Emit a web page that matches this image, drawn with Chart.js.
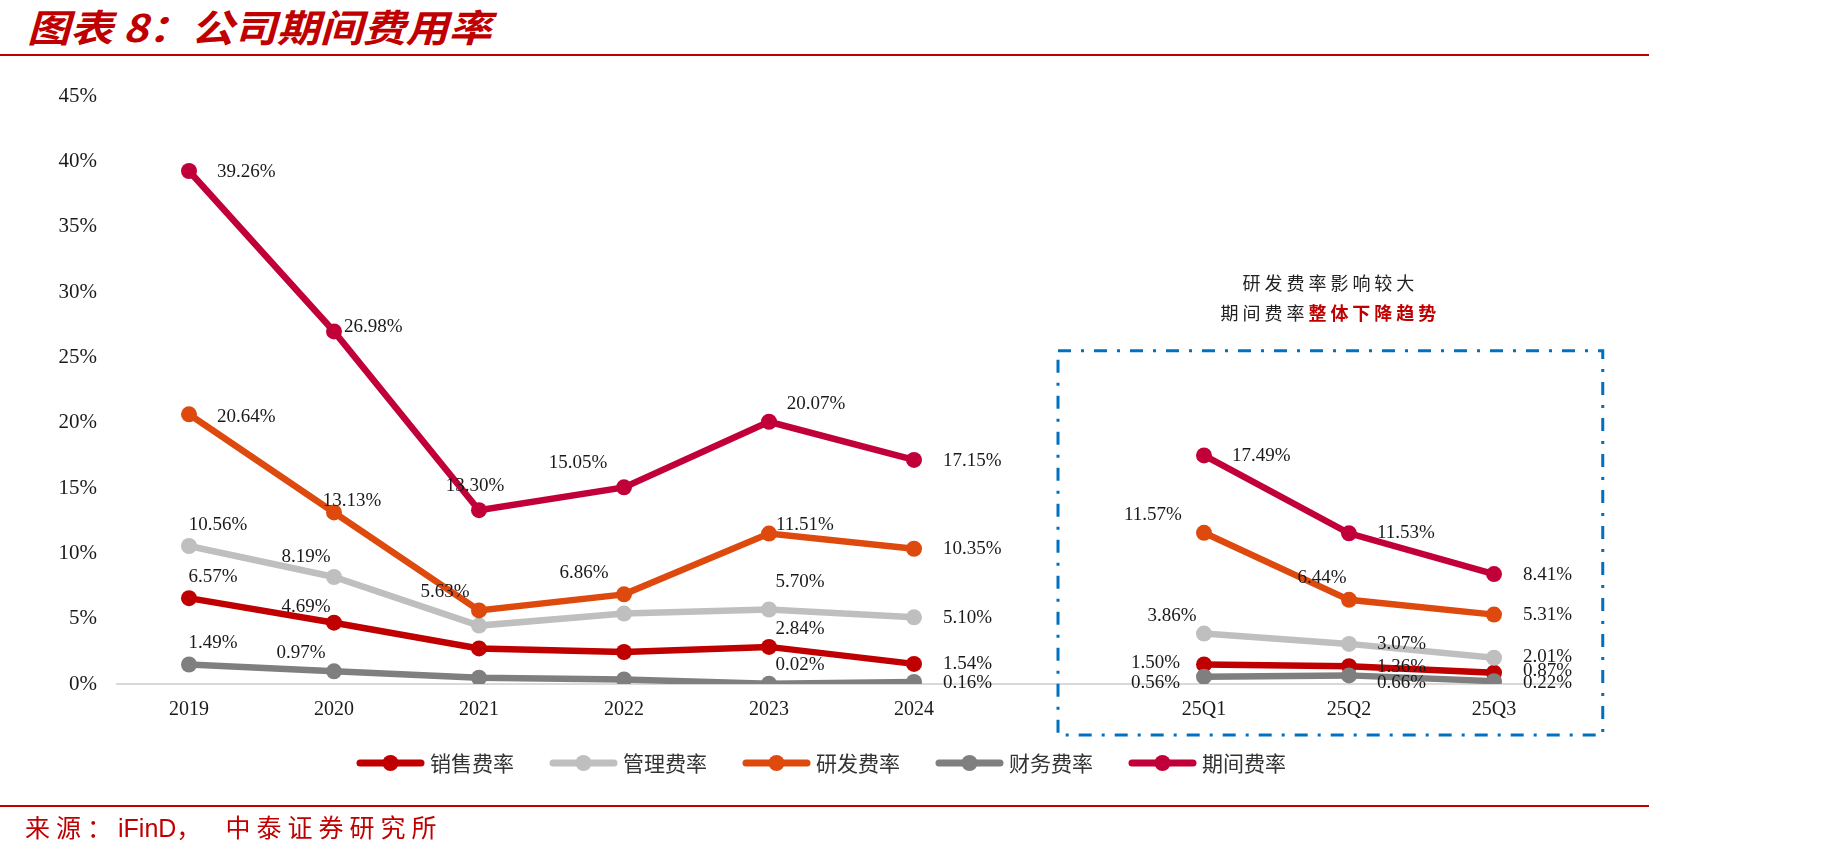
<!DOCTYPE html>
<html>
<head>
<meta charset="utf-8">
<script src="https://cdn.jsdelivr.net/npm/chart.js@4.4.1/dist/chart.umd.min.js"></script>
<style>
  html, body { margin: 0; padding: 0; background: #fff; width: 1830px; height: 858px; overflow: hidden; }
  #wrap { position: relative; width: 1830px; height: 858px; }
  #chart { position: absolute; left: 0; top: 0; }
  .title { position: absolute; left: 27px; top: -2px; font: italic bold 38px "Noto Sans CJK SC"; color: #C00000; white-space: nowrap; transform: scaleX(1.13); transform-origin: left top; }
  .rule { position: absolute; left: 0; width: 1649px; height: 2px; background: #C00000; }
  .src { position: absolute; left: 25px; top: 808px; font: 25px "Noto Sans CJK SC"; color: #C00000; white-space: nowrap; }
  .src .cjk { letter-spacing: 6px; }
  .src .comma { margin-right: 18px; }
  .src .lat { font-family: "Liberation Sans", Arial, sans-serif; }
</style>
</head>
<body>
<div id="wrap">
  <div class="title">图表 8：公司期间费用率</div>
  <div class="rule" style="top:54px"></div>
  <canvas id="chart" width="1830" height="858"></canvas>
  <div class="rule" style="top:805px"></div>
  <div class="src"><span class="cjk">来源：</span><span class="lat">iFinD</span><span class="cjk comma">，</span><span class="cjk">中泰证券研究所</span></div>
</div>
<script>
// categories (empty slot separates the annual and quarterly parts)
const categories = ["2019", "2020", "2021", "2022", "2023", "2024", "", "25Q1", "25Q2", "25Q3"];

// rates in %
const salesRate   = [6.57, 4.69, 2.72, 2.45, 2.84, 1.54, null, 1.50, 1.36, 0.87];
const adminRate   = [10.56, 8.19, 4.47, 5.39, 5.70, 5.10, null, 3.86, 3.07, 2.01];
const rdRate      = [20.64, 13.13, 5.63, 6.86, 11.51, 10.35, null, 11.57, 6.44, 5.31];
const financeRate = [1.49, 0.97, 0.48, 0.35, 0.02, 0.16, null, 0.56, 0.66, 0.22];
const periodRate  = [39.26, 26.98, 13.30, 15.05, 20.07, 17.15, null, 17.49, 11.53, 8.41];

const seriesNames = ["销售费率", "管理费率", "研发费率", "财务费率", "期间费率"];
const yTicks = [0, 5, 10, 15, 20, 25, 30, 35, 40, 45];

const noteLine1 = "研发费率影响较大";
const noteLine2a = "期间费率";
const noteLine2b = "整体下降趋势";

// label placement per point: [align, dx, dy]; null = no label
const labelPlacement = [
  [["center", 24, -21], ["center", -28, -16], null, null, ["center", 31, -18], ["left", 29, 0], null, ["right", -24, -1], ["left", 28, 1], ["left", 29, -2]],
  [["center", 29, -21], ["center", -28, -20], null, null, ["center", 31, -28], ["left", 29, 1], null, ["center", -32, -18], ["left", 28, 0], ["left", 29, -1]],
  [["left", 28, 3], ["center", 18, -11], ["center", -34, -18], ["center", -40, -21], ["center", 36, -9], ["left", 29, 0], null, ["center", -51, -18], ["center", -27, -22], ["left", 29, 0]],
  [["center", 24, -22], ["center", -33, -18], null, null, ["center", 31, -19], ["left", 29, 1], null, ["right", -24, 6], ["left", 28, 8], ["left", 29, 2]],
  [["left", 28, 1], ["left", 10, -4], ["center", -4, -24], ["center", -46, -24], ["center", 47, -18], ["left", 29, 1], null, ["left", 28, 1], ["left", 28, 0], ["left", 29, 1]]
];

const colors = ["#C00000", "#BFBFBF", "#DE4A0E", "#7F7F7F", "#C10039"];
const drawOrder = [5, 4, 3, 2, 1];
const allSeries = [salesRate, adminRate, rdRate, financeRate, periodRate];

function makeDataset(i) {
  return {
    label: seriesNames[i],
    data: allSeries[i],
    borderColor: colors[i],
    backgroundColor: colors[i],
    borderWidth: 6.5,
    pointRadius: 8,
    pointBorderWidth: 0,
    pointBackgroundColor: colors[i],
    pointHoverRadius: 8,
    tension: 0,
    spanGaps: false,
    order: drawOrder[i]
  };
}

const valueLabels = {
  id: "valueLabels",
  afterDatasetsDraw(chart) {
    const ctx = chart.ctx;
    ctx.save();
    ctx.font = '19px "Liberation Serif"';
    ctx.fillStyle = "#1a1a1a";
    ctx.textBaseline = "middle";
    chart.data.datasets.forEach((ds, i) => {
      const meta = chart.getDatasetMeta(i);
      labelPlacement[i].forEach((p, j) => {
        if (!p || ds.data[j] == null) return;
        const pt = meta.data[j];
        ctx.textAlign = p[0];
        ctx.fillText(ds.data[j].toFixed(2) + "%", pt.x + p[1], pt.y + p[2]);
      });
    });
    ctx.restore();
  }
};

const extras = {
  id: "extras",
  afterDraw(chart) {
    const ctx = chart.ctx;
    const x = chart.scales.x;
    const y = chart.scales.y;
    const area = chart.chartArea;
    const step = x.getPixelForValue(1) - x.getPixelForValue(0);

    // dashed box around the quarterly part
    const left = x.getPixelForValue(6) - 1;
    const right = x.getPixelForValue(9) + step * 0.75;
    const top = y.getPixelForValue(25.5);
    const bottom = area.bottom + 51;
    ctx.save();
    ctx.strokeStyle = "#0070C0";
    ctx.lineWidth = 3;
    ctx.setLineDash([13, 10, 3, 10]);
    ctx.strokeRect(left, top, right - left, bottom - top);
    ctx.restore();

    // note above box
    ctx.save();
    const cx = (left + right) / 2;
    ctx.font = '18px "Noto Sans CJK SC"';
    ctx.letterSpacing = "4px";
    ctx.textBaseline = "middle";
    ctx.fillStyle = "#222";
    ctx.textAlign = "center";
    ctx.fillText(noteLine1, cx, top - 68);
    ctx.textAlign = "left";
    const wa = ctx.measureText(noteLine2a).width;
    ctx.font = 'bold 18px "Noto Sans CJK SC"';
    const wb = ctx.measureText(noteLine2b).width;
    const sx = cx - (wa + wb) / 2;
    ctx.font = '18px "Noto Sans CJK SC"';
    ctx.fillText(noteLine2a, sx, top - 38);
    ctx.font = 'bold 18px "Noto Sans CJK SC"';
    ctx.fillStyle = "#C00000";
    ctx.fillText(noteLine2b, sx + wa, top - 38);
    ctx.restore();

    // legend
    ctx.save();
    ctx.font = '21px "Noto Sans CJK SC"';
    ctx.textBaseline = "middle";
    ctx.textAlign = "left";
    const lineLen = 67, gap = 6, spacing = 36;
    const items = chart.data.datasets.map((ds) => ({ ds, w: lineLen + gap + ctx.measureText(ds.label).width }));
    const total = items.reduce((s, it) => s + it.w, 0) + spacing * (items.length - 1);
    let lx = (area.left + area.right) / 2 - 20 - total / 2;
    const ly = 763;
    items.forEach((it) => {
      ctx.strokeStyle = it.ds.borderColor;
      ctx.lineWidth = 7;
      ctx.lineCap = "round";
      ctx.beginPath();
      ctx.moveTo(lx + 3, ly);
      ctx.lineTo(lx + lineLen - 3, ly);
      ctx.stroke();
      ctx.fillStyle = it.ds.borderColor;
      ctx.beginPath();
      ctx.arc(lx + lineLen / 2, ly, 8, 0, Math.PI * 2);
      ctx.fill();
      ctx.fillStyle = "#333";
      ctx.fillText(it.ds.label, lx + lineLen + gap, ly);
      lx += it.w + spacing;
    });
    ctx.restore();
  }
};

new Chart(document.getElementById("chart"), {
  type: "line",
  data: {
    labels: categories,
    datasets: allSeries.map((s, i) => makeDataset(i))
  },
  options: {
    responsive: false,
    animation: false,
    events: [],
    layout: { padding: { left: 0, right: 263.5, top: 96, bottom: 134 } },
    plugins: { legend: { display: false }, tooltip: { enabled: false } },
    scales: {
      x: {
        offset: true,
        grid: { display: false, drawTicks: false },
        border: { display: true, color: "#D9D9D9", width: 2 },
        ticks: { color: "#1a1a1a", font: { family: "Liberation Serif", size: 20 }, padding: 14, maxRotation: 0, autoSkip: false },
        afterFit(scale) { scale.height = 40; }
      },
      y: {
        min: 0,
        max: 45,
        afterBuildTicks(scale) { scale.ticks = yTicks.map((v) => ({ value: v })); },
        grid: { display: false, drawTicks: false },
        border: { display: false },
        ticks: { color: "#1a1a1a", font: { family: "Liberation Serif", size: 21 }, padding: 19.5, callback: (v) => v + "%" },
        afterFit(scale) { scale.width = 116.5; }
      }
    }
  },
  plugins: [valueLabels, extras]
});
</script>
</body>
</html>
